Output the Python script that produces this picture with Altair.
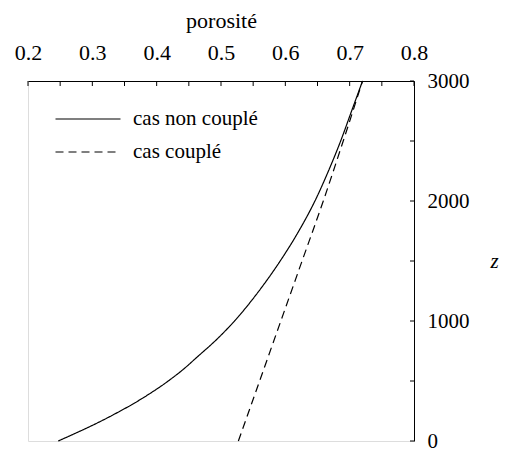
import altair as alt
import pandas as pd

# ---- data ----
series_names = ["cas non couplé", "cas couplé"]

z_non_couple = [0, 200, 350, 500, 600, 700, 850, 1000, 1250, 1500, 1750, 2000,
                2250, 2500, 2750, 3000]
poro_non_couple = [0.247, 0.326, 0.376, 0.418, 0.442, 0.463, 0.494, 0.521, 0.559,
                   0.592, 0.621, 0.646, 0.667, 0.686, 0.703, 0.720]

z_couple = [0, 500, 1000, 1500, 2000, 2500, 3000]
poro_couple = [0.527, 0.560, 0.593, 0.626, 0.659, 0.690, 0.720]

x_label_values = [0.2, 0.3, 0.4, 0.5, 0.6, 0.7, 0.8]
x_tick_values = [0.2, 0.25, 0.3, 0.35, 0.4, 0.45, 0.5, 0.55, 0.6, 0.65, 0.7, 0.75, 0.8]
y_label_values = [0, 1000, 2000, 3000]
y_tick_values = [0, 500, 1000, 1500, 2000, 2500, 3000]

FONT = "Liberation Serif, DejaVu Serif, serif"
W, H = 386, 360

rows = []
for z, p in zip(z_non_couple, poro_non_couple):
    rows.append({"serie": series_names[0], "z": z, "porosite": p})
for z, p in zip(z_couple, poro_couple):
    rows.append({"serie": series_names[1], "z": z, "porosite": p})
df = pd.DataFrame(rows)

xscale = alt.Scale(domain=[0.2, 0.8], nice=False, zero=False)
yscale = alt.Scale(domain=[0, 3000], nice=False, zero=False)

lines = alt.Chart(df).mark_line(color="black", strokeWidth=1.2, interpolate="monotone").encode(
    x=alt.X("porosite:Q", scale=xscale,
            axis=alt.Axis(orient="top", values=x_label_values, format=".1f",
                          tickSize=0, grid=False, domainColor="black", domainWidth=1,
                          labelFlush=False, labelFont=FONT, labelFontSize=22,
                          labelColor="black", labelPadding=17, title="porosité",
                          titleFont=FONT, titleFontSize=22, titleFontWeight="normal",
                          titleColor="black", titlePadding=9)),
    y=alt.Y("z:Q", scale=yscale,
            axis=alt.Axis(orient="right", values=y_label_values, format="d",
                          tickSize=0, grid=False, domainColor="black", domainWidth=1,
                          labelFlush=False, labelFont=FONT, labelFontSize=21,
                          labelColor="black", labelPadding=13, labelAlign="left",
                          labelBaseline="middle", title="z", titleFont=FONT,
                          titleFontSize=21, titleFontStyle="italic",
                          titleFontWeight="normal", titleColor="black", titleAngle=0,
                          titleAlign="center", titleBaseline="middle",
                          titleX=80, titleY=H / 2)),
    strokeDash=alt.StrokeDash("serie:N",
                              scale=alt.Scale(domain=series_names, range=[[1, 0], [8, 5]]),
                              legend=alt.Legend(title=None, orient="none", legendX=46,
                                                legendY=24, symbolType="M-2.5,0H2.5",
                                                symbolSize=676, symbolStrokeWidth=1.2,
                                                symbolStrokeColor="black",
                                                symbolFillColor="transparent",
                                                labelFont=FONT, labelFontSize=21,
                                                labelColor="black", labelOffset=31,
                                                rowPadding=9)),
    order="z:Q",
)

xt = pd.DataFrame({"porosite": x_tick_values})
x_ticks = alt.Chart(xt).mark_rule(color="black", strokeWidth=1).encode(
    x=alt.X("porosite:Q", scale=xscale),
    y=alt.value(0), y2=alt.value(5),
)

yt = pd.DataFrame({"z": y_tick_values})
y_ticks = alt.Chart(yt).mark_rule(color="black", strokeWidth=1).encode(
    y=alt.Y("z:Q", scale=yscale),
    x=alt.value(W - 4), x2=alt.value(W),
)

chart = alt.layer(lines, x_ticks, y_ticks).properties(
    width=W, height=H,
    autosize=alt.AutoSizeParams(type="none"),
    padding={"left": 20, "top": 73, "right": 85, "bottom": 14},
).configure_view(stroke="transparent", strokeWidth=0, strokeOpacity=0).configure(background="white")

chart.save("out.html", embed_options={"renderer": "svg", "actions": False})
